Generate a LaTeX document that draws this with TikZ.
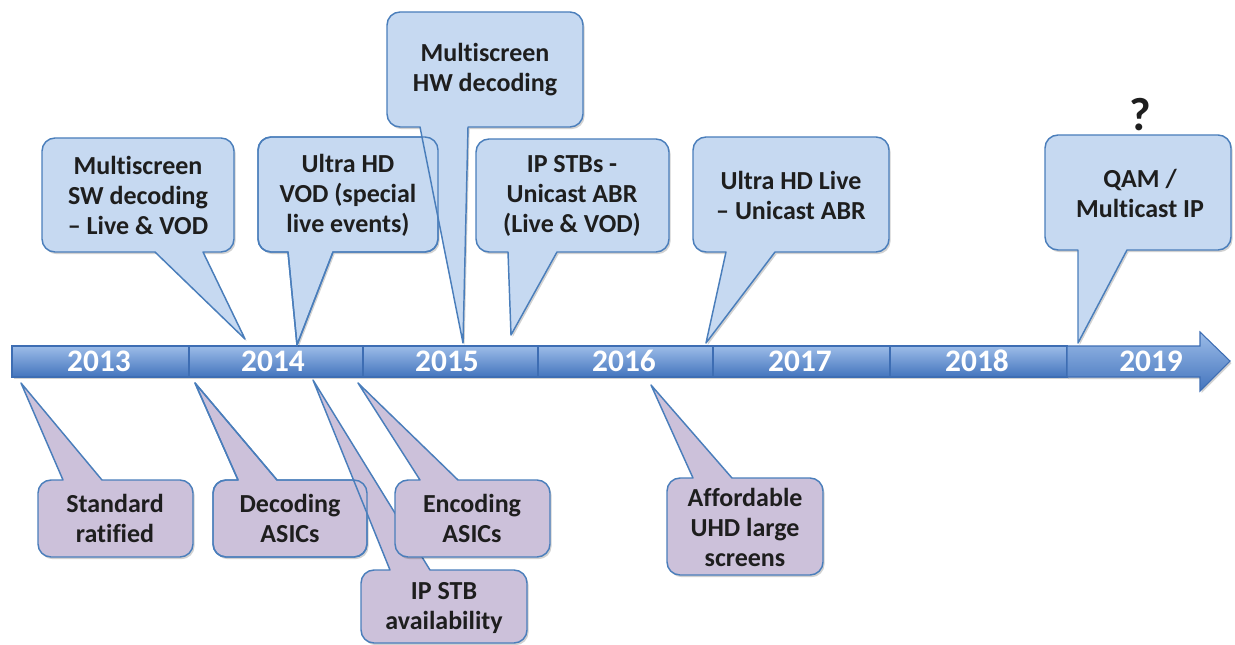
\documentclass[tikz,border=0pt]{standalone}
\usepackage{fontspec}
\setmainfont{Carlito}[Ligatures=NoCommon]
\definecolor{bfill}{HTML}{C6D9F1}
\definecolor{pfill}{HTML}{CCC1DA}
\definecolor{cline}{HTML}{4A7EBB}
\definecolor{ctext}{HTML}{1E1E1E}
\definecolor{bartop}{HTML}{9CBCE8}
\definecolor{barmid}{HTML}{76A0DA}
\definecolor{barbot}{HTML}{4374BD}
\definecolor{barline}{HTML}{3D6DB3}
% callout with pointer on the bottom edge: style, x1, y1, x2, y2, base left, base right, tip x, tip y
\newcommand{\calldown}[9]{%
  \path[#1] (#2+13,#3) -- (#4-13,#3) arc[start angle=-90,end angle=0,radius=13]
    -- (#4,#5-13) arc[start angle=0,end angle=90,radius=13]
    -- (#7,#5) -- (#8,#9) -- (#6,#5)
    -- (#2+13,#5) arc[start angle=90,end angle=180,radius=13]
    -- (#2,#3+13) arc[start angle=180,end angle=270,radius=13] -- cycle;}
% callout with pointer on the top edge
\newcommand{\callup}[9]{%
  \path[#1] (#2+13,#3) -- (#6,#3) -- (#8,#9) -- (#7,#3)
    -- (#4-13,#3) arc[start angle=-90,end angle=0,radius=13]
    -- (#4,#5-13) arc[start angle=0,end angle=90,radius=13]
    -- (#2+13,#5) arc[start angle=90,end angle=180,radius=13]
    -- (#2,#3+13) arc[start angle=180,end angle=270,radius=13] -- cycle;}
\begin{document}
\begin{tikzpicture}[x=0.75pt,y=-0.75pt,
  shadowed/.style={preaction={fill=black,fill opacity=0.18,draw=none,transform canvas={xshift=1.2pt,yshift=-1.6pt}}},
  bluecall/.style={shadowed,fill=bfill,draw=cline,line width=1.1pt,line join=round},
  purplecall/.style={shadowed,fill=pfill,draw=cline,line width=1.1pt,line join=round},
  outlineonly/.style={draw=cline,line width=1.1pt,line join=round},
  barseg/.style={shadowed,top color=bartop,middle color=barmid,bottom color=barbot,draw=barline,line width=0.8pt},
  yr/.style={text=white,font=\fontsize{23.5}{23.5}\selectfont\bfseries,inner sep=0pt},
  lbl/.style={text=ctext,font=\fontsize{19.5}{22.5}\selectfont\bfseries,align=center,inner sep=0pt}]
\useasboundingbox (0,0) rectangle (1235,645);

% timeline bar
\path[barseg] (12,346) rectangle (189,377);
\path[barseg] (189,346) rectangle (363,377);
\path[barseg] (363,346) rectangle (538,377);
\path[barseg] (538,346) rectangle (713,377);
\path[barseg] (713,346) rectangle (890,377);
\path[barseg] (890,346) rectangle (1067,377);
\path[barseg] (1067,346) -- (1200,346) -- (1200,332) -- (1230,361) -- (1200,391) -- (1200,377) -- (1067,377) -- cycle;

\node[yr] (y13) at (99,361) {2013};
\node[yr] (y14) at (273,361) {2014};
\node[yr] (y15) at (447,361) {2015};
\node[yr] (y16) at (624,361) {2016};
\node[yr] (y17) at (800,361) {2017};
\node[yr] (y18) at (977,361) {2018};
\node[yr] (y19) at (1151,361) {2019};

% top callouts
\calldown{bluecall}{42}{138}{234}{252}{155}{203}{245}{339}
\calldown{bluecall}{258}{137}{438}{252}{288}{333}{297}{345}
\calldown{bluecall}{387}{12}{583}{127}{420}{468}{463}{343}
\calldown{outlineonly}{258}{137}{438}{252}{288}{333}{297}{345}
\calldown{bluecall}{476}{139}{669}{252}{508}{557}{511}{335}
\calldown{bluecall}{693}{137}{889}{252}{726}{775}{706}{343}
\calldown{bluecall}{1045}{135}{1231}{250}{1078}{1127}{1078}{343}

% bottom callouts
\callup{purplecall}{38}{480}{193}{557}{63}{102}{21}{383}
\callup{purplecall}{213}{480}{367}{557}{238}{277}{195}{383}
\callup{purplecall}{361}{570}{527}{643}{390}{430}{313}{380}
\callup{outlineonly}{213}{480}{367}{557}{238}{277}{195}{383}
\callup{purplecall}{395}{480}{550}{557}{420}{458}{358}{383}
\callup{purplecall}{667}{478}{823}{575}{693}{732}{651}{385}

% labels
\node[lbl] (tA) at (138,195) {Multiscreen\\SW decoding\\– Live \& VOD};
\node[lbl] (tB) at (348,195) {Ultra HD\\VOD (special\\live events)};
\node[lbl] (tC) at (485,70) {Multiscreen\\HW decoding};
\node[lbl] (tD) at (572,196) {IP STBs -\\Unicast ABR\\(Live \& VOD)};
\node[lbl] (tE) at (791,195) {Ultra HD Live\\– Unicast ABR};
\node[lbl] (tF) at (1140,193) {QAM /\\Multicast IP};
\node[text=ctext,font=\fontsize{35}{35}\selectfont\bfseries,inner sep=0pt] (q) at (1140,115) {?};
\node[lbl] (tG) at (115,518) {Standard\\ratified};
\node[lbl] (tH) at (290,518) {Decoding\\ASICs};
\node[lbl] (tI) at (444,608) {IP STB\\availability};
\node[lbl] (tJ) at (472,518) {Encoding\\ASICs};
\node[lbl] (tK) at (745,527) {Affordable\\UHD large\\screens};
\end{tikzpicture}
\end{document}
